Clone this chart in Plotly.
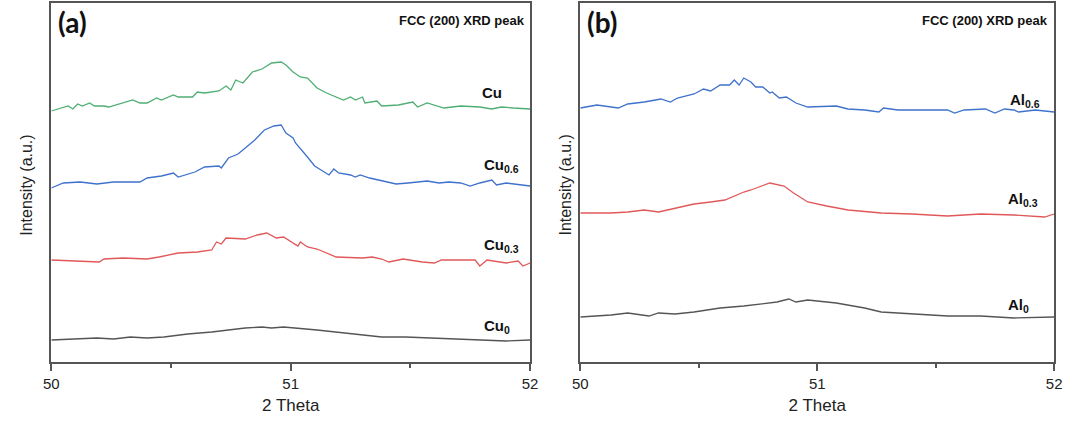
import plotly.graph_objects as go

# ---- Panel (a): FCC (200) peak, Cu series ----
a_cu_x = [50.00, 50.04, 50.07, 50.09, 50.11, 50.13, 50.16, 50.18, 50.22, 50.24, 50.30, 50.34, 50.37, 50.40,
          50.44, 50.46, 50.51, 50.53, 50.59, 50.61, 50.64, 50.70, 50.73, 50.75, 50.77, 50.80, 50.84, 50.88,
          50.92, 50.96, 50.98, 51.01, 51.04, 51.07, 51.11, 51.15, 51.22, 51.25, 51.27, 51.30, 51.31, 51.36,
          51.38, 51.45, 51.51, 51.53, 51.57, 51.64, 51.71, 51.79, 51.84, 51.88, 51.93, 52.00]
a_cu_y = [251, 254, 256, 253, 258, 256, 259, 256, 256, 255, 259, 262, 259, 259,
          264, 262, 267, 265, 265, 270, 269, 271, 276, 272, 282, 279, 290, 293,
          299, 300, 297, 290, 285, 284, 274, 269, 262, 265, 262, 265, 259, 261,
          256, 257, 260, 255, 259, 254, 256, 255, 253, 255, 254, 253]

a_cu06_x = [50.00, 50.05, 50.12, 50.19, 50.26, 50.37, 50.40, 50.46, 50.51, 50.53, 50.60, 50.64, 50.70, 50.71,
            50.74, 50.78, 50.81, 50.85, 50.89, 50.93, 50.96, 50.98, 51.01, 51.02, 51.07, 51.10, 51.16, 51.18,
            51.20, 51.25, 51.27, 51.29, 51.33, 51.37, 51.40, 51.44, 51.49, 51.57, 51.62, 51.66, 51.71, 51.75,
            51.79, 51.84, 51.86, 51.90, 52.00]
a_cu06_y = [174, 179, 180, 178, 180, 180, 184, 186, 189, 185, 190, 195, 196, 194,
            204, 208, 214, 222, 232, 236, 237, 229, 224, 219, 205, 196, 187, 193,
            189, 187, 185, 187, 184, 182, 180, 178, 179, 181, 179, 180, 179, 176,
            179, 182, 177, 179, 176]

a_cu03_x = [50.00, 50.08, 50.14, 50.20, 50.22, 50.30, 50.40, 50.45, 50.53, 50.61, 50.67, 50.69, 50.71, 50.73,
            50.81, 50.86, 50.90, 50.94, 50.97, 51.03, 51.04, 51.07, 51.11, 51.19, 51.30, 51.34, 51.38, 51.41,
            51.47, 51.55, 51.60, 51.63, 51.71, 51.77, 51.79, 51.82, 51.90, 51.95, 51.97, 52.00]
a_cu03_y = [102, 101, 100, 100, 103, 104, 103, 105, 109, 110, 112, 120, 118, 124,
            123, 127, 129, 124, 125, 116, 120, 115, 113, 105, 104, 105, 103, 100,
            103, 100, 99, 102, 102, 102, 96, 102, 99, 101, 96, 99]

a_cu0_x = [50.00, 50.10, 50.19, 50.26, 50.33, 50.40, 50.47, 50.57, 50.67, 50.81, 50.88, 50.92, 50.97, 51.11,
           51.25, 51.38, 51.48, 51.59, 51.70, 51.79, 51.90, 52.00]
a_cu0_y = [22, 23, 24, 23, 25, 24, 25, 28, 30, 34, 35, 34, 35, 32,
           28, 25, 25, 24, 23, 22, 21, 22]

# ---- Panel (b): FCC (200) peak, Al series ----
b_al06_x = [50.00, 50.07, 50.16, 50.20, 50.27, 50.34, 50.38, 50.41, 50.48, 50.52, 50.55, 50.59, 50.63, 50.65,
            50.67, 50.69, 50.72, 50.74, 50.77, 50.80, 50.81, 50.84, 50.87, 50.91, 50.96, 51.04, 51.08, 51.13,
            51.20, 51.26, 51.28, 51.34, 51.45, 51.55, 51.58, 51.62, 51.71, 51.75, 51.79, 51.83, 51.85, 51.92, 52.00]
b_al06_y = [254, 257, 254, 258, 260, 263, 260, 264, 268, 273, 271, 277, 277, 282,
            277, 284, 280, 275, 275, 269, 270, 264, 265, 259, 255, 256, 256, 253,
            252, 250, 254, 252, 252, 252, 249, 252, 253, 249, 253, 252, 250, 252, 250]

b_al03_x = [50.00, 50.13, 50.20, 50.27, 50.33, 50.41, 50.48, 50.55, 50.61, 50.69, 50.72, 50.80, 50.86, 50.90,
            50.95, 50.96, 51.04, 51.13, 51.27, 51.40, 51.55, 51.69, 51.83, 51.96, 52.00]
b_al03_y = [149, 149, 150, 152, 150, 154, 158, 160, 162, 170, 172, 179, 176, 169,
            162, 160, 156, 152, 149, 148, 146, 148, 147, 145, 148]

b_al0_x = [50.00, 50.13, 50.20, 50.29, 50.33, 50.40, 50.48, 50.59, 50.69, 50.83, 50.88, 50.91, 50.96, 51.04,
           51.08, 51.20, 51.27, 51.41, 51.55, 51.69, 51.83, 52.00]
b_al0_y = [45, 47, 49, 46, 49, 48, 50, 54, 56, 60, 63, 60, 62, 60,
           59, 54, 50, 48, 46, 46, 44, 45]

# Labels
a_labels = ["Cu", "Cu<sub>0.6</sub>", "Cu<sub>0.3</sub>", "Cu<sub>0</sub>"]
a_label_x = [51.84, 51.88, 51.88, 51.86]
a_label_y = [270, 197, 117, 36]
b_labels = ["Al<sub>0.6</sub>", "Al<sub>0.3</sub>", "Al<sub>0</sub>"]
b_label_x = [51.875, 51.867, 51.85]
b_label_y = [262, 163, 57]

GREEN = "#4fae73"
BLUE = "#3f72cc"
RED = "#e0585a"
GRAY = "#555555"
FONT = "Liberation Sans"

fig = go.Figure()
for xs, ys, c in [(a_cu_x, a_cu_y, GREEN), (a_cu06_x, a_cu06_y, BLUE),
                  (a_cu03_x, a_cu03_y, RED), (a_cu0_x, a_cu0_y, GRAY)]:
    fig.add_trace(go.Scatter(x=xs, y=ys, mode="lines", line=dict(color=c, width=1.3),
                             xaxis="x", yaxis="y", showlegend=False, hoverinfo="skip"))
for xs, ys, c in [(b_al06_x, b_al06_y, BLUE), (b_al03_x, b_al03_y, RED), (b_al0_x, b_al0_y, GRAY)]:
    fig.add_trace(go.Scatter(x=xs, y=ys, mode="lines", line=dict(color=c, width=1.3),
                             xaxis="x2", yaxis="y2", showlegend=False, hoverinfo="skip"))

W, H = 1072, 421
ybot = (H - 362) / H
ytop = (H - 3) / H
axis_common = dict(range=[50, 52], tickvals=[50, 51, 52], ticks="outside", ticklen=7, tickwidth=1.5,
                   tickcolor="#555", showline=True, linecolor="#555", linewidth=1.5, mirror=True,
                   showgrid=False, zeroline=False,
                   tickfont=dict(family=FONT, size=15, color="#222"),
                   minor=dict(tickvals=[50.5, 51.5], ticks="outside", ticklen=4, tickwidth=1.5, tickcolor="#555"),
                   title=dict(text="2 Theta", font=dict(family=FONT, size=17, color="#222"),
                              standoff=8))
yaxis_common = dict(range=[0, 359], showticklabels=False, ticks="", showline=True, linecolor="#555",
                    linewidth=1.5, mirror=True, showgrid=False, zeroline=False)

fig.update_layout(
    width=W, height=H, margin=dict(l=0, r=0, t=0, b=0),
    paper_bgcolor="white", plot_bgcolor="white",
    font=dict(family=FONT),
    xaxis=dict(domain=[44 / W, 530 / W], anchor="y", **axis_common),
    yaxis=dict(domain=[ybot, ytop], anchor="x", **yaxis_common),
    xaxis2=dict(domain=[581 / W, 1062 / W], anchor="y2", **axis_common),
    yaxis2=dict(domain=[ybot, ytop], anchor="x2", **yaxis_common),
)

ann = []
lblfont = dict(family=FONT, size=15, color="#111")
for t, x, y in zip(a_labels, a_label_x, a_label_y):
    ann.append(dict(text=f"<b>{t}</b>", x=x, y=y, xref="x", yref="y", showarrow=False, font=lblfont))
for t, x, y in zip(b_labels, b_label_x, b_label_y):
    ann.append(dict(text=f"<b>{t}</b>", x=x, y=y, xref="x2", yref="y2", showarrow=False, font=lblfont))

for px, lab in [(44, "(a)"), (581, "(b)")]:
    ann.append(dict(text=f"<b>{lab}</b>", x=(px + 5) / W, y=(H - 22) / H, xref="paper", yref="paper",
                    xanchor="left", yanchor="middle", showarrow=False,
                    font=dict(family="Lato", size=28, color="#111")))
for px in [527, 1058]:
    ann.append(dict(text="<b>FCC (200) XRD peak</b>", x=px / W, y=(H - 20) / H, xref="paper", yref="paper",
                    xanchor="right", yanchor="middle", showarrow=False,
                    font=dict(family=FONT, size=13, color="#111")))
for px in [18, 565]:
    ann.append(dict(text="Intensity (a.u.)", x=px / W, y=(H - 185) / H, xref="paper", yref="paper",
                    xanchor="center", yanchor="middle", textangle=-90, showarrow=False,
                    font=dict(family=FONT, size=16, color="#222")))
fig.update_layout(annotations=ann)

fig.write_html("out.html")
